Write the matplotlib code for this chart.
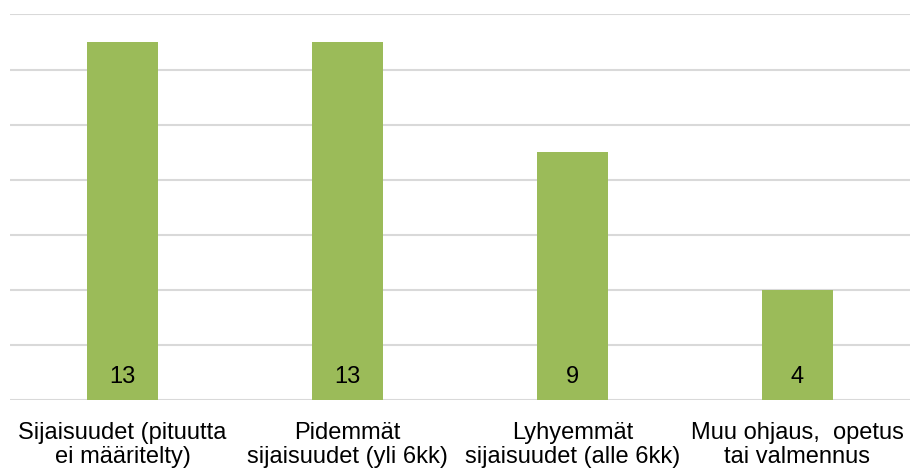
import matplotlib
matplotlib.use("Agg")
import matplotlib.pyplot as plt

categories = [
    "Sijaisuudet (pituutta\nei määritelty)",
    "Pidemmät\nsijaisuudet (yli 6kk)",
    "Lyhyemmät\nsijaisuudet (alle 6kk)",
    "Muu ohjaus,  opetus\ntai valmennus",
]
values = [13, 13, 9, 4]
y_ticks = [0, 2, 4, 6, 8, 10, 12, 14]

plt.rcParams["font.family"] = ["Liberation Sans", "DejaVu Sans"]

fig = plt.figure(figsize=(9.10, 4.69), dpi=100)
ax = fig.add_axes([10 / 910, (469 - 400) / 469, 900 / 910, (400 - 14.5) / 469])

x = list(range(len(categories)))
bars = ax.bar(x, values, width=0.315, color="#9BBB59", zorder=3)

for xi, v in zip(x, values):
    ax.text(xi, 0.82, str(v), ha="center", va="center", fontsize=17,
            color="#000000", zorder=4)

ax.set_xlim(-0.5, len(categories) - 0.5)
ax.set_ylim(0, 14)
ax.set_yticks(y_ticks)
ax.yaxis.grid(True, color="#D9D9D9", linewidth=1.5, zorder=0)
ax.tick_params(axis="y", left=False, labelleft=False)
ax.set_xticks(x)
ax.set_xticklabels(categories, fontsize=17, linespacing=1.12)
ax.tick_params(axis="x", length=0, pad=15.5)
for s in ax.spines.values():
    s.set_visible(False)

fig.savefig("out.png", dpi=100)
